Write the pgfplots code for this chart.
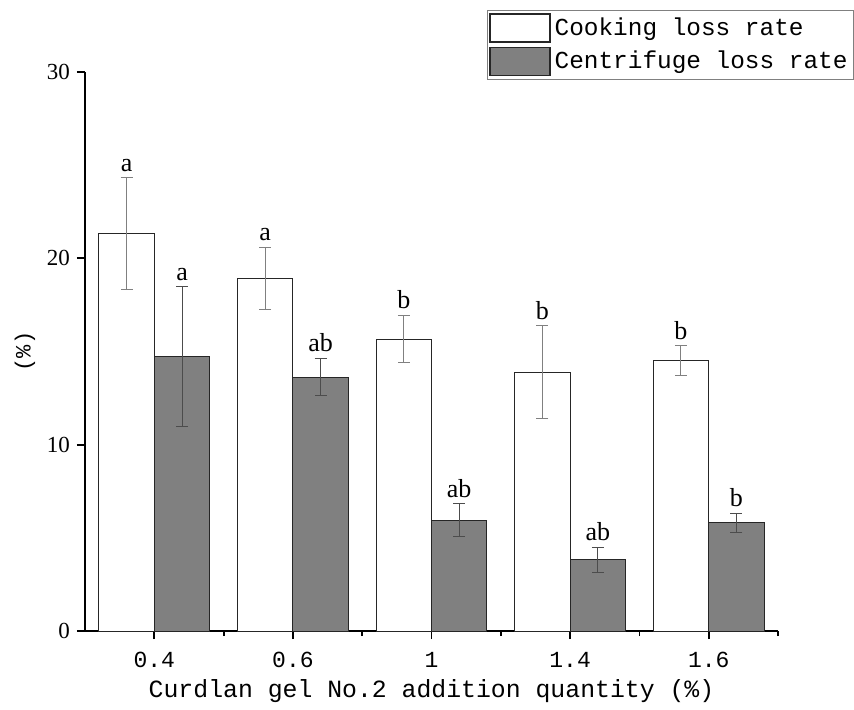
\documentclass[border=0pt]{standalone}
\usepackage{fontspec}
\setmainfont{Liberation Serif}
\newfontfamily\mono{Liberation Mono}
\usepackage{pgfplots}
\pgfplotsset{compat=1.18}
\usepackage{pgfplotstable}
\definecolor{bargray}{RGB}{128,128,128}
\pgfplotsset{boxlegend/.style={legend image code/.code={\draw[##1, line width=0.7pt] (0pt,-7pt) rectangle (30pt,7pt);}}}
\pgfplotstableread{
x y e
0 21.33 3.00
1 18.93 1.65
2 15.67 1.28
3 13.88 2.50
4 14.50 0.80
}\cooking
\pgfplotstableread{
x y e
0 14.71 3.76
1 13.62 1.00
2 5.94 0.88
3 3.82 0.68
4 5.80 0.50
}\centrif
\begin{document}
\begin{tikzpicture}
\begin{axis}[name=ax,
  scale only axis, width=346.5pt, height=279.5pt,
  xmin=-0.5, xmax=4.5, ymin=0, ymax=30,
  axis lines=left,
  axis line style={-, line width=1pt},
  xtick={0,1,2,3,4},
  xticklabels={0.4,0.6,1,1.4,1.6},
  minor xtick={0.5,1.5,2.5,3.5,4.5},
  ytick={0,10,20,30},
  tick align=outside,
  major tick length=4pt, minor tick length=2.5pt,
  tick style={line width=0.9pt, black},
  /pgf/number format/assume math mode=true,
  yticklabel style={font=\fontsize{11.5}{12}\selectfont},
  xticklabel style={font=\mono\fontsize{11.5}{13}\selectfont, yshift=-3pt},
  xlabel={\mono Curdlan gel No.2 addition quantity (\%)},
  xlabel style={font=\mono\fontsize{12.4}{14}\selectfont, yshift=1pt},
  ylabel={\mono (\%)},
  ylabel style={font=\mono\fontsize{11}{13}\selectfont, yshift=-1pt},
  legend style={at={(1.1097,1.111)}, anchor=north east, draw=gray, line width=0.5pt,
    font=\mono\fontsize{12.2}{13}\selectfont, row sep=2pt, inner xsep=1pt, inner ysep=1.5pt},
  legend cell align=left,
  clip=false,
]
\addplot[ybar, bar width=0.4, bar shift=0, fill=white, draw=black!85, line width=0.5pt,
  boxlegend,
  error bars/.cd, y dir=both, y explicit,
  error bar style={gray, line width=0.5pt},
  error mark options={gray, mark size=3pt, line width=0.5pt, rotate=90}]
  table[x expr=\thisrow{x}-0.2, y=y, y error=e] {\cooking};
\addlegendentry{Cooking loss rate}
\addplot[ybar, bar width=0.4, bar shift=0, fill=bargray, draw=black!85, line width=0.5pt,
  boxlegend,
  error bars/.cd, y dir=both, y explicit,
  error bar style={black!70, line width=0.5pt},
  error mark options={black!70, mark size=3pt, line width=0.5pt, rotate=90}]
  table[x expr=\thisrow{x}+0.2, y=y, y error=e] {\centrif};
\addlegendentry{Centrifuge loss rate}
\begin{scope}[every node/.style={font=\fontsize{13}{14}\selectfont, anchor=south, inner sep=3pt}]
\node at (axis cs:-0.2,24.33) {a};
\node at (axis cs:0.2,18.47) {a};
\node at (axis cs:0.8,20.58) {a};
\node at (axis cs:1.2,14.62) {ab};
\node at (axis cs:1.8,16.95) {b};
\node at (axis cs:2.2,6.82) {ab};
\node at (axis cs:2.8,16.38) {b};
\node at (axis cs:3.2,4.50) {ab};
\node at (axis cs:3.8,15.30) {b};
\node at (axis cs:4.2,6.30) {b};
\end{scope}
\end{axis}
\pgfresetboundingbox
\path (ax.south west) ++(-42.5pt,-39pt) rectangle ++(427pt,354.5pt);
\end{tikzpicture}
\end{document}
